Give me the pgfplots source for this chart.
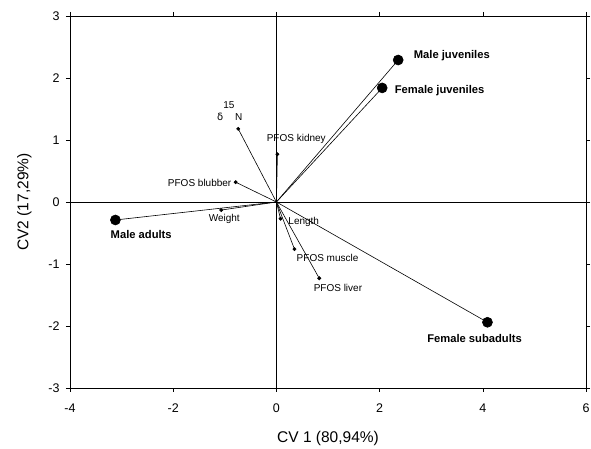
\documentclass[border=0pt]{standalone}
\usepackage{pgfplots}
\pgfplotsset{compat=1.18}
\usepackage{fontspec}
\setmainfont{Liberation Sans}
\newfontfamily\dejavu{DejaVu Sans}
\begin{document}
\begin{tikzpicture}[x=1pt,y=1pt]
\path[use as bounding box] (-70,-61) rectangle (521,388);
\begin{axis}[
  at={(0,0)}, anchor=south west,
  scale only axis, width=516pt, height=372pt,
  xmin=-4, xmax=6, ymin=-3, ymax=3,
  xtick={-4,-2,0,2,4,6}, ytick={-3,-2,-1,0,1,2,3},
  tick align=outside, major tick length=4pt,
  tick style={black, line width=0.6pt},
  axis line style={line width=0.8pt},
  /pgf/number format/assume math mode=true,
  tick label style={font=\fontsize{12.5}{14}\selectfont},
  xticklabel style={yshift=-8pt},
  yticklabel style={xshift=-3pt},
  xlabel={CV 1 (80,94\%)}, ylabel={CV2 (17,29\%)},
  label style={font=\fontsize{15.5}{18}\selectfont},
  xlabel style={yshift=-12pt},
  ylabel style={yshift=10pt},
  clip=false,
]
\draw[line width=0.5pt] (axis cs:-4,0) -- (axis cs:6,0);
\draw[line width=0.5pt] (axis cs:0,-3) -- (axis cs:0,3);
% groups
\pgfplotsset{grp/.style={black, line width=0.6pt, mark=*, mark size=5pt, mark indices={2}}}
\addplot[grp] coordinates {(0,0) (2.36,2.29)};
\addplot[grp] coordinates {(0,0) (2.05,1.84)};
\addplot[grp] coordinates {(0,0) (4.09,-1.94)};
\addplot[grp] coordinates {(0,0) (-3.12,-0.29)};
% variables
\pgfplotsset{var/.style={black, line width=0.6pt, mark=*, mark size=1.6pt, mark indices={2}}}
\addplot[var] coordinates {(0,0) (-0.74,1.18)};
\addplot[var] coordinates {(0,0) (0.02,0.77)};
\addplot[var] coordinates {(0,0) (-0.79,0.32)};
\addplot[var] coordinates {(0,0) (-1.07,-0.13)};
\addplot[var] coordinates {(0,0) (0.08,-0.27)};
\addplot[var] coordinates {(0,0) (0.35,-0.76)};
\addplot[var] coordinates {(0,0) (0.83,-1.23)};
% group labels
\begin{scope}[every node/.style={font=\bfseries\fontsize{11.2}{13}\selectfont, inner sep=0pt}]
\node[anchor=west] at (axis cs:2.66,2.36) {Male juveniles};
\node[anchor=west] at (axis cs:2.29,1.80) {Female juveniles};
\node at (axis cs:3.84,-2.20) {Female subadults};
\node at (axis cs:-2.62,-0.52) {Male adults};
\end{scope}
% variable labels
\begin{scope}[every node/.style={font=\fontsize{10}{12}\selectfont, inner sep=0pt}]
\node[anchor=west] at (axis cs:-0.19,1.01) {PFOS kidney};
\node[anchor=east] at (axis cs:-0.87,0.31) {PFOS blubber};
\node at (axis cs:-1.01,-0.27) {Weight};
\node[anchor=west] at (axis cs:0.23,-0.32) {Length};
\node[anchor=west] at (axis cs:0.39,-0.90) {PFOS muscle};
\node[anchor=west] at (axis cs:0.72,-1.38) {PFOS liver};
\node at (axis cs:-1.09,1.37) {\dejavu δ};
\node at (axis cs:-0.73,1.37) {N};
\node at (axis cs:-0.92,1.56) {15};
\end{scope}
\end{axis}
\end{tikzpicture}
\end{document}
